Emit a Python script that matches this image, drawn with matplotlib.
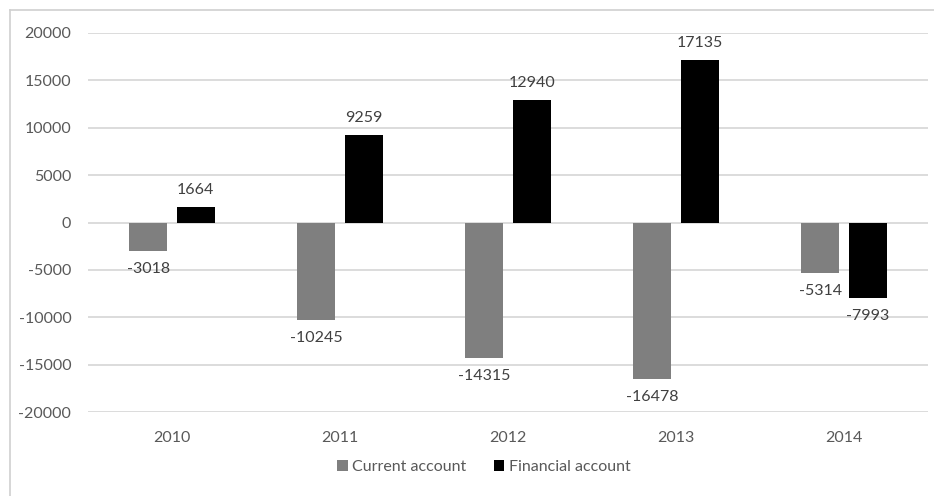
import matplotlib
matplotlib.use("Agg")
import matplotlib.pyplot as plt
from matplotlib.lines import Line2D
from matplotlib.patches import Patch
import numpy as np

plt.rcParams['font.family'] = ['Lato', 'DejaVu Sans']

years = ['2010', '2011', '2012', '2013', '2014']
current_account = [-3018, -10245, -14315, -16478, -5314]
financial_account = [1664, 9259, 12940, 17135, -7993]
series_names = ['Current account', 'Financial account']
y_ticks = [-20000, -15000, -10000, -5000, 0, 5000, 10000, 15000, 20000]

GRAY = '#7f7f7f'
BLACK = '#000000'
TEXT = '#404040'
TICK = '#595959'
GRID = '#d9d9d9'
FS = 11.5

fig = plt.figure(figsize=(9.34, 4.96), dpi=100)
ax = fig.add_axes([88 / 934, 84 / 496, 840 / 934, 379 / 496])

x = np.arange(len(years))
width = 0.228
offset = 0.142

b1 = ax.bar(x - offset, current_account, width, color=GRAY, zorder=3)
b2 = ax.bar(x + offset, financial_account, width, color=BLACK, zorder=3)

for bars, vals in ((b1, current_account), (b2, financial_account)):
    for rect, v in zip(bars, vals):
        cx = rect.get_x() + rect.get_width() / 2
        if v >= 0:
            ax.annotate(f'{v}', (cx, v), xytext=(0, 7), textcoords='offset points',
                        ha='center', va='bottom', fontsize=FS, color=TEXT)
        else:
            ax.annotate(f'{v}', (cx, v), xytext=(0, -8), textcoords='offset points',
                        ha='center', va='top', fontsize=FS, color=TEXT)

ax.set_xlim(-0.5, len(years) - 0.5)
ax.set_ylim(-20000, 20000)
ax.set_yticks(y_ticks)
ax.set_yticklabels([str(t) for t in y_ticks])
ax.set_xticks(x)
ax.set_xticklabels(years)
ax.tick_params(axis='both', length=0, labelsize=FS, labelcolor=TICK)
ax.tick_params(axis='y', pad=12)
ax.tick_params(axis='x', pad=14)
ax.grid(axis='y', color=GRID, linewidth=1.3, zorder=0)
for s in ax.spines.values():
    s.set_visible(False)

handles = [Patch(facecolor=GRAY), Patch(facecolor=BLACK)]
fig.legend(handles, series_names, loc='center', bbox_to_anchor=(484 / 934, 1 - 467 / 496),
           ncol=2, frameon=False, fontsize=FS, labelcolor=TICK,
           handlelength=0.65, handleheight=0.65, handletextpad=0.3, columnspacing=1.7)

# chart frame (top and left edges)
fig.add_artist(Line2D([10 / 934, 10 / 934], [0, 1 - 10 / 496], transform=fig.transFigure,
                      color='#d0d0d0', linewidth=1.2))
fig.add_artist(Line2D([10 / 934, 1], [1 - 10 / 496, 1 - 10 / 496], transform=fig.transFigure,
                      color='#d0d0d0', linewidth=1.2))

fig.savefig('out.png', dpi=100, facecolor='white')
